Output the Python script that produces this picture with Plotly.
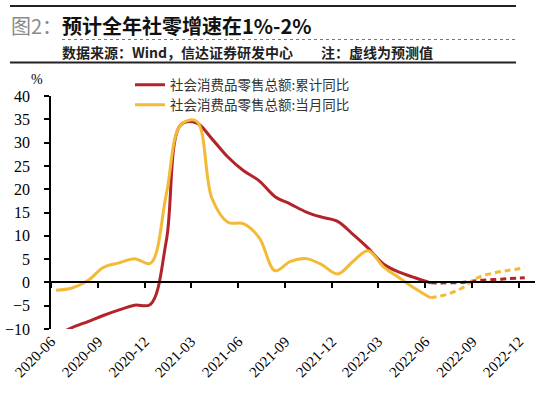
import pandas as pd
import plotly.graph_objects as go

# ---------------- data ----------------
months = pd.date_range("2020-06-30", "2022-12-31", freq="ME")  # month-end dates

# 社会消费品零售总额:累计同比 (%) Jun-2020 .. Jun-2022 actual, Jun-2022 .. Dec-2022 forecast
cum_actual = [-11.4, -9.7, -8.4, -7.1, -5.9, -4.9, -4.7,
              9.0, 33.8, 34.2, 30.8, 26.9, 24.0, 21.8, 18.4, 16.8, 15.1, 14.0, 13.1,
              10.2, 7.4, 3.9, 2.2, 1.0, -0.1]
cum_forecast = [-0.1, -0.1, 0.0, 0.4, 0.6, 0.8, 1.0]

# 社会消费品零售总额:当月同比 (%)
mon_actual = [-1.7, -1.2, 0.4, 3.2, 4.2, 5.1, 4.1,
              19.0, 33.8, 34.6, 18.0, 12.9, 12.6, 9.6, 2.5, 4.5, 5.1, 3.8, 1.8,
              4.6, 6.8, 3.3, 1.0, -1.3, -3.3]
mon_forecast = [-3.3, -2.6, -1.2, 1.0, 2.0, 2.6, 3.1]

series_names = ["社会消费品零售总额:累计同比", "社会消费品零售总额:当月同比"]
colors = ["#B3242A", "#F2BA36"]

title_prefix = "图2："
title_text = "预计全年社零增速在1%-2%"
subtitle_text = "数据来源：Wind，信达证券研发中心\u3000\u3000注：虚线为预测值"

x_actual = months[:len(cum_actual)]
x_forecast = months[len(cum_actual) - 1:]

# ---------------- layout helpers ----------------
W, H = 550, 397
L, R, T, B = 51, 535, 96, 329


def fx(px):
    return (px - L) / (R - L)


def fy(py):
    return (B - py) / (B - T)


serif = "Liberation Serif, Times New Roman, serif"
cjk = "Noto Sans CJK SC, sans-serif"

fig = go.Figure()
legends = ["legend", "legend2"]
for i, (name, col, ya, yf) in enumerate([(series_names[0], colors[0], cum_actual, cum_forecast),
                                         (series_names[1], colors[1], mon_actual, mon_forecast)]):
    fig.add_trace(go.Scatter(x=x_actual, y=ya, mode="lines", name=name, legend=legends[i],
                             line=dict(color=col, width=3, shape="spline", smoothing=1.0),
                             xaxis="x", yaxis="y"))
    fig.add_trace(go.Scatter(x=x_forecast, y=yf, mode="lines", name=name, showlegend=False,
                             line=dict(color=col, width=3, shape="spline", smoothing=1.0,
                                       dash="6px,4px"),
                             xaxis="x", yaxis="y"))

xrange = ["2020-06-20", "2023-01-20"]

legend_common = dict(xanchor="left", yanchor="middle", bgcolor="rgba(0,0,0,0)",
                     font=dict(family=cjk, size=13.5, color="#333"), itemwidth=30,
                     borderwidth=0)

fig.update_layout(
    width=W, height=H,
    margin=dict(l=L, r=W - R, t=T, b=H - B, autoexpand=False),
    paper_bgcolor="white", plot_bgcolor="white",
    showlegend=True,
    legend=dict(x=fx(130), y=fy(85), **legend_common),
    legend2=dict(x=fx(130), y=fy(105), **legend_common),
    xaxis=dict(range=xrange, type="date", tick0="2020-06-20", dtick="M3", tickformat="%Y-%m",
               tickangle=-45, showline=False, ticks="", showgrid=False, zeroline=False,
               automargin=False,
               tickfont=dict(family=serif, size=15, color="black")),
    xaxis2=dict(range=xrange, type="date", tick0="2020-06-20", dtick="M3", overlaying="x",
                anchor="free", position=0.2, showline=True, linecolor="black", linewidth=2,
                ticks="outside", ticklen=5, tickwidth=1.5, tickcolor="black",
                showticklabels=False, showgrid=False, zeroline=False, automargin=False),
    yaxis=dict(range=[-10, 40], dtick=5, showline=True, linecolor="black", linewidth=1.5,
               ticks="outside", ticklen=5, tickwidth=1.5, tickcolor="black",
               showgrid=False, zeroline=False, automargin=False, ticklabelstandoff=11,
               tickfont=dict(family=serif, size=16, color="black")),
)

# invisible helper trace so the zero-line axis (xaxis2) is drawn
fig.add_trace(go.Scatter(x=[months[0]], y=[0], xaxis="x2", yaxis="y", mode="markers",
                         marker=dict(opacity=0), showlegend=False, hoverinfo="skip"))

# header decorations
fig.add_shape(type="line", xref="paper", yref="paper", x0=fx(10), x1=fx(516), y0=fy(6), y1=fy(6),
              line=dict(color="#222", width=2))
fig.add_shape(type="line", xref="paper", yref="paper", x0=fx(62), x1=fx(516), y0=fy(39.5), y1=fy(39.5),
              line=dict(color="#777", width=1, dash="dot"))
fig.add_shape(type="line", xref="paper", yref="paper", x0=fx(10), x1=fx(516), y0=fy(62.5), y1=fy(62.5),
              line=dict(color="#222", width=2))

fig.add_annotation(text=title_prefix, xref="paper", yref="paper", x=fx(9), y=fy(25),
                   xanchor="left", yanchor="middle", showarrow=False,
                   font=dict(family=cjk, size=20, color="#8a8a8a"))
fig.add_annotation(text="<b>" + title_text + "</b>", xref="paper", yref="paper", x=fx(60), y=fy(25),
                   xanchor="left", yanchor="middle", showarrow=False,
                   font=dict(family=cjk, size=20, color="#111"))
fig.add_annotation(text="<b>" + subtitle_text + "</b>", xref="paper", yref="paper", x=fx(60), y=fy(51.5),
                   xanchor="left", yanchor="middle", showarrow=False,
                   font=dict(family=cjk, size=14, color="#222"))
fig.add_annotation(text="%", xref="paper", yref="paper", x=fx(37), y=fy(80),
                   xanchor="center", yanchor="middle", showarrow=False,
                   font=dict(family=serif, size=14, color="black"))

fig.write_html("out.html", config={"displayModeBar": False},
               post_script="document.body.style.margin='0';document.body.style.overflow='hidden';")
